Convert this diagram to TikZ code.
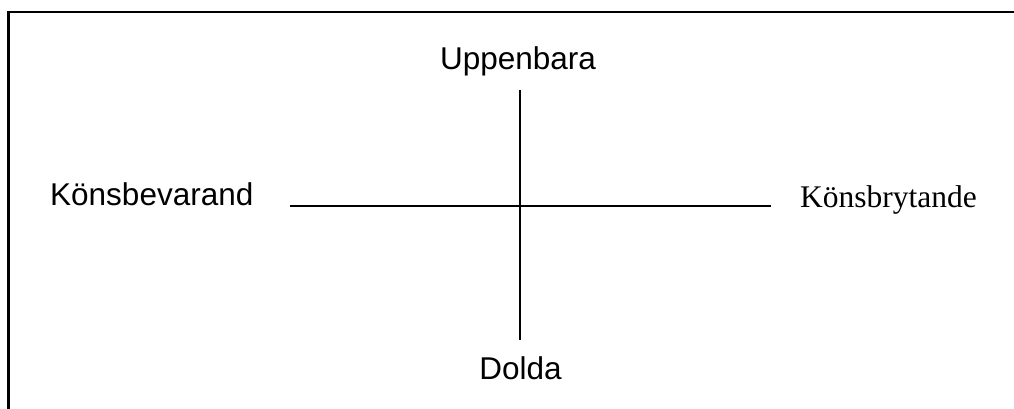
\documentclass[tikz,border=0pt]{standalone}
\usepackage{fontspec}
\setmainfont{Liberation Serif}
\newfontfamily\arialf{Liberation Sans}
\newfontfamily\timesf{Liberation Serif}
\begin{document}
\begin{tikzpicture}[x=1pt,y=-1pt,
  lab/.style={anchor=base,inner sep=0pt,font=\arialf\fontsize{31.5}{36}\selectfont},
  tlab/.style={anchor=base west,inner sep=0pt,font=\timesf\fontsize{31.5}{36}\selectfont},
  axis/.style={line width=2.6pt,black},
  frame/.style={line width=2.4pt,black}]
\useasboundingbox (0,0) rectangle (1014,408);
\clip (0,0) rectangle (1014,408);
\draw[frame] (8.3,12) rectangle (1030,430);
\coordinate (top) at (520,90);
\coordinate (bot) at (520,340);
\coordinate (lft) at (290,206);
\coordinate (rgt) at (771,206);
\draw[axis] (top) -- (bot);
\draw[axis] (lft) -- (rgt);
\node[lab] (upp) at (518,69) {Uppenbara};
\node[lab] (dol) at (520.5,379) {Dolda};
\node[lab,anchor=base west] (bev) at (50,205) {Könsbevarand};
\node[tlab] (bry) at (800,207) {Könsbrytande};
\end{tikzpicture}
\end{document}
